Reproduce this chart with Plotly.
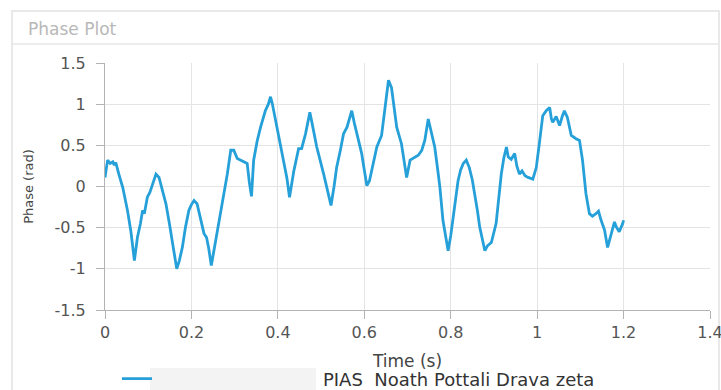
import plotly.graph_objects as go

# ---- data ----
time_s = [0.000, 0.006, 0.012, 0.018, 0.021, 0.025, 0.032, 0.041, 0.052, 0.060,
          0.068, 0.075, 0.082, 0.087, 0.091, 0.094, 0.098, 0.104, 0.110, 0.118,
          0.125, 0.133, 0.141, 0.149, 0.156, 0.166, 0.172, 0.179, 0.186, 0.194,
          0.200, 0.206, 0.213, 0.221, 0.229, 0.235, 0.240, 0.246, 0.253, 0.260,
          0.268, 0.275, 0.283, 0.291, 0.298, 0.306, 0.315, 0.322, 0.329, 0.334,
          0.339, 0.344, 0.352, 0.360, 0.371, 0.378, 0.383, 0.387, 0.392, 0.398,
          0.406, 0.414, 0.421, 0.427, 0.437, 0.448, 0.455, 0.464, 0.474, 0.478,
          0.484, 0.490, 0.506, 0.515, 0.523, 0.530, 0.536, 0.545, 0.552, 0.560,
          0.571, 0.577, 0.585, 0.594, 0.600, 0.606, 0.612, 0.620, 0.629, 0.640,
          0.648, 0.656, 0.663, 0.669, 0.675, 0.686, 0.694, 0.698, 0.706, 0.715,
          0.725, 0.733, 0.740, 0.748, 0.752, 0.763, 0.770, 0.775, 0.782, 0.788,
          0.794, 0.800, 0.806, 0.812, 0.817, 0.823, 0.829, 0.836, 0.843, 0.850,
          0.856, 0.862, 0.867, 0.873, 0.879, 0.885, 0.894, 0.905, 0.911, 0.917,
          0.923, 0.929, 0.933, 0.940, 0.948, 0.953, 0.959, 0.965, 0.972, 0.979,
          0.990, 0.998, 1.006, 1.013, 1.021, 1.029, 1.033, 1.036, 1.044, 1.052,
          1.058, 1.063, 1.070, 1.079, 1.090, 1.098, 1.105, 1.109, 1.113, 1.121,
          1.128, 1.136, 1.142, 1.148, 1.156, 1.163, 1.171, 1.179, 1.183, 1.190,
          1.198, 1.200]

phase_rad = [0.11, 0.32, 0.28, 0.30, 0.26, 0.29, 0.15, -0.01, -0.29, -0.55,
             -0.90, -0.62, -0.45, -0.29, -0.33, -0.22, -0.13, -0.07, 0.02, 0.15,
             0.11, -0.05, -0.21, -0.45, -0.66, -1.00, -0.90, -0.74, -0.50, -0.29,
             -0.22, -0.17, -0.21, -0.40, -0.57, -0.62, -0.75, -0.96, -0.75, -0.57,
             -0.35, -0.09, 0.15, 0.44, 0.44, 0.34, 0.32, 0.30, 0.28, 0.05,
             -0.12, 0.32, 0.55, 0.72, 0.92, 1.00, 1.09, 1.01, 0.88, 0.72,
             0.52, 0.32, 0.10, -0.13, 0.19, 0.46, 0.46, 0.64, 0.90, 0.80,
             0.62, 0.48, 0.15, -0.05, -0.23, 0.00, 0.23, 0.45, 0.64, 0.72,
             0.92, 0.77, 0.60, 0.40, 0.20, 0.01, 0.07, 0.28, 0.48, 0.62,
             0.95, 1.29, 1.20, 0.95, 0.72, 0.52, 0.23, 0.11, 0.32, 0.35,
             0.38, 0.44, 0.56, 0.82, 0.72, 0.48, 0.20, -0.01, -0.41, -0.62,
             -0.78, -0.60, -0.37, -0.12, 0.07, 0.20, 0.28, 0.32, 0.23, 0.08,
             -0.09, -0.30, -0.49, -0.65, -0.78, -0.72, -0.68, -0.45, -0.15, 0.15,
             0.35, 0.48, 0.36, 0.33, 0.40, 0.25, 0.15, 0.19, 0.13, 0.11,
             0.09, 0.23, 0.56, 0.86, 0.92, 0.96, 0.82, 0.78, 0.85, 0.74,
             0.85, 0.92, 0.84, 0.62, 0.58, 0.56, 0.32, 0.10, -0.09, -0.33,
             -0.36, -0.33, -0.30, -0.41, -0.53, -0.74, -0.57, -0.43, -0.49, -0.55,
             -0.45, -0.41]

series_name = "PIAS  Noath Pottali Drava zeta"
panel_title = "Phase Plot"
x_title = "Time (s)"
y_title = "Phase (rad)"
x_ticks = [0, 0.2, 0.4, 0.6, 0.8, 1, 1.2, 1.4]
x_tick_text = ["0", "0.2", "0.4", "0.6", "0.8", "1", "1.2", "1.4"]
y_ticks = [-1.5, -1, -0.5, 0, 0.5, 1, 1.5]
y_tick_text = ["-1.5", "-1", "-0.5", "0", "0.5", "1", "1.5"]

# ---- figure ----
W, H = 721, 390
ML, MR, MT, MB = 105, 11, 63, 80
PW, PH = W - ML - MR, H - MT - MB


def px(x):
    return (x - ML) / PW


def py(y):
    return (H - MB - y) / PH


LINE = "rgb(38,160,216)"
FONT = "DejaVu Sans, Verdana, sans-serif"
TXT = "#555555"

fig = go.Figure()
fig.add_trace(go.Scatter(
    x=time_s, y=phase_rad, mode="lines",
    name="\u00a0" * 29 + series_name,
    line=dict(color=LINE, width=2.8),
))

axis_common = dict(
    showgrid=True, gridcolor="#e4e4e4", gridwidth=1,
    showline=True, linecolor="#b3b3b3", linewidth=1,
    ticks="outside", ticklen=8, tickcolor="#b3b3b3",
    tickfont=dict(family=FONT, size=16, color=TXT),
    ticklabeloverflow="allow",
    zeroline=False, mirror=False,
)

fig.update_layout(
    width=W, height=H,
    margin=dict(l=ML, r=MR, t=MT, b=MB, autoexpand=False),
    paper_bgcolor="white", plot_bgcolor="white",
    font=dict(family=FONT, color=TXT),
    xaxis=dict(range=[0, 1.4], tickvals=x_ticks, ticktext=x_tick_text,
               title=dict(text=x_title, font=dict(family=FONT, size=17, color="#444444"),
                          standoff=13),
               **axis_common),
    yaxis=dict(range=[-1.5, 1.5], tickvals=y_ticks, ticktext=y_tick_text,
               ticklabelstandoff=7,
               title=dict(text=y_title, font=dict(family=FONT, size=13, color="#444444"),
                          standoff=18),
               **axis_common),
    showlegend=True,
    legend=dict(orientation="h", x=px(117), xanchor="left", y=py(379), yanchor="middle",
                font=dict(family=FONT, size=18, color="#333333"),
                bgcolor="rgba(0,0,0,0)"),
    shapes=[
        # panel border
        dict(type="rect", xref="paper", yref="paper",
             x0=px(12), x1=px(719), y0=py(400), y1=py(11),
             line=dict(color="#e2e2e2", width=1.5), fillcolor="rgba(0,0,0,0)", layer="below"),
        # header separator
        dict(type="line", xref="paper", yref="paper",
             x0=px(12), x1=px(719), y0=py(44), y1=py(44),
             line=dict(color="#e6e6e6", width=1.5)),
        # redacted area in legend
        dict(type="rect", xref="paper", yref="paper",
             x0=px(150), x1=px(316), y0=py(392), y1=py(368),
             line=dict(width=0), fillcolor="#f3f3f3", layer="below"),
    ],
    annotations=[
        dict(text=panel_title, xref="paper", yref="paper", x=px(26), y=py(29),
             xanchor="left", yanchor="middle", showarrow=False,
             font=dict(family=FONT, size=17, color="#b8b8b8")),
    ],
)

fig.write_html("out.html")
